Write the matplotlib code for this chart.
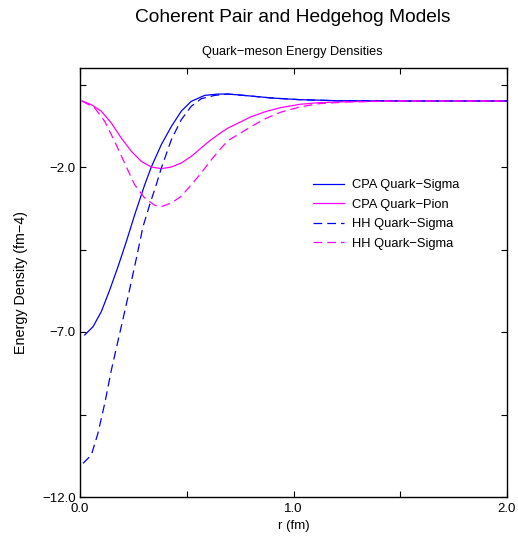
import matplotlib
matplotlib.use("Agg")
import matplotlib.pyplot as plt
from matplotlib.ticker import FixedLocator

plt.rcParams['font.family'] = ['Liberation Sans', 'DejaVu Sans']

# CPA Quark-Sigma (solid blue)
r_cpa_sigma = [0.022, 0.061, 0.10, 0.139, 0.178, 0.217, 0.256, 0.303, 0.334, 0.381, 0.428,
               0.474, 0.521, 0.584, 0.646, 0.693, 0.75, 0.80, 0.90, 1.03, 1.2, 1.5, 2.0]
e_cpa_sigma = [-7.09, -6.84, -6.38, -5.73, -5.02, -4.26, -3.45, -2.54, -2.0, -1.32, -0.77,
               -0.31, -0.01, 0.17, 0.21, 0.21, 0.18, 0.15, 0.09, 0.04, 0.01, 0.0, 0.0]

# CPA Quark-Pion (solid magenta)
r_cpa_pion = [0.009, 0.053, 0.10, 0.147, 0.193, 0.24, 0.287, 0.334, 0.381, 0.428, 0.474,
              0.521, 0.568, 0.615, 0.662, 0.693, 0.75, 0.80, 0.87, 0.94, 1.03, 1.12, 1.25,
              1.5, 2.0]
e_cpa_pion = [0.0, -0.11, -0.31, -0.67, -1.12, -1.52, -1.83, -2.0, -2.05, -2.0, -1.88,
              -1.68, -1.42, -1.17, -0.95, -0.82, -0.64, -0.48, -0.32, -0.20, -0.10, -0.05,
              -0.02, 0.0, 0.0]

# HH Quark-Sigma (dashed blue)
r_hh_sigma = [0.014, 0.053, 0.084, 0.116, 0.147, 0.186, 0.225, 0.264, 0.295, 0.326, 0.357,
              0.381, 0.428, 0.474, 0.521, 0.568, 0.631, 0.693, 0.75, 0.80, 0.90, 1.03, 1.2,
              1.5, 2.0]
e_hh_sigma = [-10.98, -10.73, -10.07, -9.16, -8.15, -7.04, -5.93, -4.77, -3.81, -3.15, -2.54,
              -2.03, -1.17, -0.57, -0.16, 0.07, 0.17, 0.21, 0.18, 0.15, 0.09, 0.04, 0.01,
              0.0, 0.0]

# HH Quark-Pion (dashed magenta; labelled "HH Quark-Sigma" in the original legend)
r_hh_pion = [0.009, 0.069, 0.116, 0.162, 0.209, 0.256, 0.303, 0.35, 0.381, 0.428, 0.474,
             0.521, 0.568, 0.615, 0.662, 0.693, 0.75, 0.80, 0.87, 0.94, 1.03, 1.12, 1.25,
             1.5, 2.0]
e_hh_pion = [0.0, -0.21, -0.62, -1.22, -1.88, -2.54, -2.94, -3.16, -3.2, -3.09, -2.89,
             -2.54, -2.18, -1.78, -1.42, -1.2, -0.98, -0.78, -0.53, -0.34, -0.18, -0.08,
             -0.03, 0.0, 0.0]

labels = ["CPA Quark\u2212Sigma", "CPA Quark\u2212Pion", "HH Quark\u2212Sigma", "HH Quark\u2212Sigma"]

x_ticks = [0.0, 1.0, 2.0]
y_ticks = [-12.0, -7.0, -2.0]

blue = '#0000ff'
mag = '#ff00ff'

fig = plt.figure(figsize=(5.18, 5.43), dpi=100)
ax = fig.add_axes([80/518, 1-497/543, (507-80)/518, (497-68)/543])

ax.plot(r_cpa_sigma, e_cpa_sigma, color=blue, lw=0.9, label=labels[0])
ax.plot(r_cpa_pion, e_cpa_pion, color=mag, lw=0.9, label=labels[1])
ax.plot(r_hh_sigma, e_hh_sigma, color=blue, lw=0.9, ls=(0, (7, 4)), label=labels[2])
ax.plot(r_hh_pion, e_hh_pion, color=mag, lw=0.9, ls=(0, (7, 4)), label=labels[3])

ax.set_xlim(0, 2)
ax.set_ylim(-12, 1)
ax.xaxis.set_major_locator(FixedLocator(x_ticks))
ax.yaxis.set_major_locator(FixedLocator(y_ticks))
ax.xaxis.set_minor_locator(FixedLocator([0.5, 1.5]))
ax.yaxis.set_minor_locator(FixedLocator([-9.5, -4.5, 0.5]))
ax.set_xticklabels(["%.1f" % v for v in x_ticks])
ax.set_yticklabels([("%.1f" % v).replace('-', '\u2212') for v in y_ticks])
ax.tick_params(which='both', direction='in', top=True, right=True, length=4, width=0.8,
               labelsize=9.5)
ax.tick_params(axis='x', pad=4)
ax.tick_params(axis='y', pad=3)
for s in ax.spines.values():
    s.set_linewidth(1.0)

ax.set_xlabel("r (fm)", fontsize=9.5, labelpad=4)
ax.set_ylabel("Energy Density (fm\u22124)", fontsize=10.3, labelpad=10)

fig.text(293/518, 1-18/543, "Coherent Pair and Hedgehog Models", ha='center', va='center',
         fontsize=13.8)
fig.text(292/518, 1-52/543, "Quark\u2212meson Energy Densities", ha='center', va='center',
         fontsize=9.2)

leg = ax.legend(loc='upper left', bbox_to_anchor=(228/427, 1-106/429), frameon=False,
                fontsize=9.3, handlelength=2.4, handletextpad=0.6, labelspacing=0.58,
                borderaxespad=0)

fig.savefig("out.png", dpi=100)
